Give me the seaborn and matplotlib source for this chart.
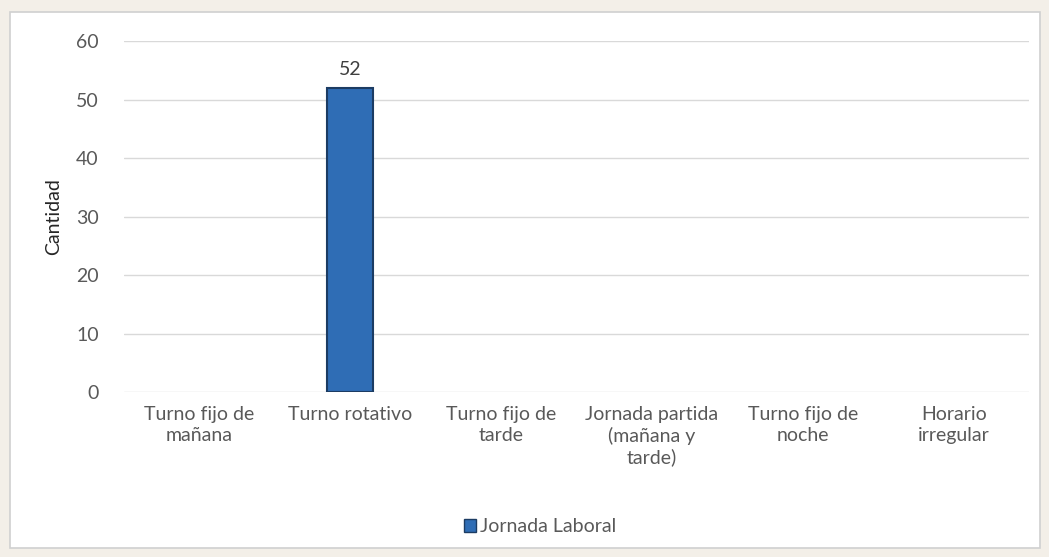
import matplotlib
matplotlib.use("Agg")
import matplotlib.pyplot as plt
import seaborn as sns
import pandas as pd
from matplotlib.patches import Rectangle, Patch

categories = ["Turno fijo de\nmañana", "Turno rotativo", "Turno fijo de\ntarde",
              "Jornada partida\n(mañana y\ntarde)", "Turno fijo de\nnoche", "Horario\nirregular"]
values = [0, 52, 0, 0, 0, 0]
series_name = "Jornada Laboral"
y_ticks = [0, 10, 20, 30, 40, 50, 60]

sns.set_theme(style="white")
plt.rcParams['font.family'] = ['Lato', 'DejaVu Sans']

df = pd.DataFrame({"cat": categories, "val": values})

fs = 14
fig = plt.figure(figsize=(10.49, 5.57), dpi=100)
fig.patch.set_facecolor("#f3efe8")
fig.add_artist(Rectangle((0.010, 0.016), 0.981, 0.963, transform=fig.transFigure,
                         facecolor="white", edgecolor="#d0d0d0", linewidth=1.2, zorder=0))
ax = fig.add_axes([0.118, 0.296, 0.863, 0.630])
ax.set_facecolor("none")

sns.barplot(data=df, x="cat", y="val", ax=ax, color="#2f6db5", width=0.31,
            edgecolor="#1c3c63", linewidth=1.5, saturation=1, zorder=3)
for p in ax.patches:
    if p.get_height() == 0:
        p.set_linewidth(0)

ax.set_ylim(0, 60)
ax.set_yticks(y_ticks)
ax.yaxis.grid(True, color="#d9d9d9", linewidth=1)
ax.set_axisbelow(True)
for s in ax.spines.values():
    s.set_visible(False)
ax.tick_params(axis='both', length=0, colors="#595959", labelsize=fs)
ax.tick_params(axis='y', pad=18)
ax.tick_params(axis='x', pad=10)
for t in ax.get_xticklabels():
    t.set_linespacing(1.25)
ax.set_xlabel("")
ax.set_ylabel("Cantidad", fontsize=fs, color="#262626", labelpad=10)

for p, v in zip(ax.patches, values):
    if v > 0:
        ax.annotate(str(v), (p.get_x() + p.get_width() / 2, v), xytext=(0, 7),
                    textcoords="offset points", ha="center", va="bottom",
                    fontsize=fs, color="#404040")

fig.legend(handles=[Patch(facecolor="#2f6db5", edgecolor="#1c3c63", label=series_name)],
           loc="center", bbox_to_anchor=(0.515, 0.054), frameon=False,
           fontsize=fs, handlelength=0.6, handleheight=0.6, handletextpad=0.2,
           labelcolor="#595959")

fig.savefig("out.png", dpi=100)
